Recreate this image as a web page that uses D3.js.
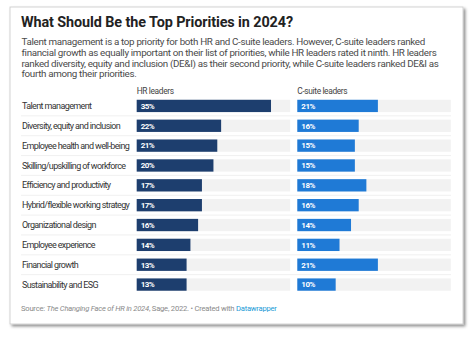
<!DOCTYPE html>
<html><head><meta charset="utf-8">
<script src="https://cdn.jsdelivr.net/npm/d3@7"></script>
<style>
html,body{margin:0;padding:0;background:#fff;}
svg{display:block;font-family:Roboto,"Noto Sans",sans-serif;}
</style></head>
<body>
<svg id="c" width="474" height="338"></svg>
<script>
const title = "What Should Be the Top Priorities in 2024?";
const subtitleLines = [
  "Talent management is a top priority for both HR and C-suite leaders. However, C-suite leaders ranked",
  "financial growth as equally important on their list of priorities, while HR leaders rated it ninth. HR leaders",
  "ranked diversity, equity and inclusion (DE&I) as their second priority, while C-suite leaders ranked DE&I as",
  "fourth among their priorities."
];
const categories = [
  "Talent management",
  "Diversity, equity and inclusion",
  "Employee health and well-being",
  "Skilling/upskilling of workforce",
  "Efficiency and productivity",
  "Hybrid/flexible working strategy",
  "Organizational design",
  "Employee experience",
  "Financial growth",
  "Sustainability and ESG"
];
const seriesNames = ["HR leaders", "C-suite leaders"];
const hrValues = [35, 22, 21, 20, 17, 17, 16, 14, 13, 13];
const csuiteValues = [21, 16, 15, 15, 18, 16, 14, 11, 21, 10];
const colors = ["#1d3e6e", "#1f7ad6"];

const svg = d3.select("#c");

// letter-spacing that makes `txt` at font size fs span `target` px
function ls(txt, target, fs, weight){
  const t = svg.append("text").attr("font-size",fs).attr("font-weight",weight||400).text(txt);
  const w = t.node().getComputedTextLength();
  t.remove();
  return (target - w) / txt.length;
}

const defs = svg.append("defs");
const f = defs.append("filter").attr("id","sh").attr("x","-5%").attr("y","-5%").attr("width","115%").attr("height","115%");
f.append("feDropShadow").attr("dx",2).attr("dy",2).attr("stdDeviation",1.5).attr("flood-color","#000").attr("flood-opacity",0.45);

svg.append("rect").attr("x",10).attr("y",7).attr("width",453).attr("height",317)
  .attr("fill","#fff").attr("stroke","#c8c8c8").attr("stroke-width",0.8).attr("filter","url(#sh)");

svg.append("text").attr("x",21).attr("y",27).attr("font-size",14.4).attr("font-weight",700)
  .attr("letter-spacing", ls(title,272,14.4,700))
  .attr("fill","#222").text(title);

const subFs = 9.8;
const subLs = ls(subtitleLines[1], 414.5, subFs);
svg.append("g").selectAll("text").data(subtitleLines).join("text")
  .attr("x",21.5).attr("y",(d,i)=>45+i*10.75).attr("font-size",subFs).attr("letter-spacing",subLs)
  .attr("fill","#4a4a4a").text(d=>d);

const y = d3.scaleBand().domain(categories).range([96, 294.5]).paddingInner(0.38).paddingOuter(0.19);
const panels = [{x0:136.7, vals:hrValues},{x0:297.3, vals:csuiteValues}];
const panelW = 153.5;

// separators
svg.append("g").selectAll("line").data(categories.slice(1)).join("line")
  .attr("x1",21).attr("x2",451)
  .attr("y1",d=>y(d)-y.step()*y.paddingInner()/2).attr("y2",d=>y(d)-y.step()*y.paddingInner()/2)
  .attr("stroke","#ececec").attr("stroke-width",0.8);

const labFs = 9.0;
const labLs = ls(categories[5], 107, labFs);
svg.append("g").selectAll("text").data(categories).join("text")
  .attr("x",22).attr("y",d=>y(d)+y.bandwidth()/2).attr("dy","0.35em")
  .attr("font-size",labFs).attr("letter-spacing",labLs).attr("fill","#333").text(d=>d);

const hdrFs = 8.4, hdrLs = ls(seriesNames[0], 37, hdrFs);
const valFs = 8.0, valLs = ls("35%", 13.6, valFs, 700);
panels.forEach((p,pi)=>{
  const x = d3.scaleLinear().domain([0,40]).range([p.x0, p.x0+panelW]);
  const g = svg.append("g");
  g.append("text").attr("x",p.x0).attr("y",94).attr("font-size",hdrFs).attr("letter-spacing",hdrLs)
    .attr("fill","#444").text(seriesNames[pi]);
  g.selectAll("rect.bg").data(categories).join("rect").attr("class","bg")
    .attr("x",x(0)).attr("y",d=>y(d)).attr("width",x(40)-x(0)).attr("height",y.bandwidth()).attr("fill","#f2f2f2");
  g.selectAll("rect.bar").data(categories).join("rect").attr("class","bar")
    .attr("x",x(0)).attr("y",d=>y(d)).attr("width",(d,i)=>x(p.vals[i])-x(0)).attr("height",y.bandwidth())
    .attr("fill",colors[pi]);
  g.selectAll("text.v").data(categories).join("text").attr("class","v")
    .attr("x",x(0)+4).attr("y",d=>y(d)+y.bandwidth()/2).attr("dy","0.35em")
    .attr("font-size",valFs).attr("font-weight",700).attr("letter-spacing",valLs)
    .attr("fill","#fff").text((d,i)=>p.vals[i]+"%");
});

const footParts = [
  {t:"Source: ", s:"normal", c:"#8a8a8a"},
  {t:"The Changing Face of HR in 2024", s:"italic", c:"#8a8a8a"},
  {t:", Sage, 2022. • Created with ", s:"normal", c:"#8a8a8a"},
  {t:"Datawrapper", s:"normal", c:"#1a9ad6"}
];
const footFs = 7.6;
const foot = svg.append("text").attr("x",21).attr("y",311).attr("font-size",footFs);
footParts.forEach(p=>foot.append("tspan").attr("font-style",p.s).attr("fill",p.c).text(p.t));
const fw = foot.node().getComputedTextLength();
const nch = footParts.map(p=>p.t).join("").length;
foot.attr("letter-spacing",(255.7-fw)/nch);
</script>
</body></html>
